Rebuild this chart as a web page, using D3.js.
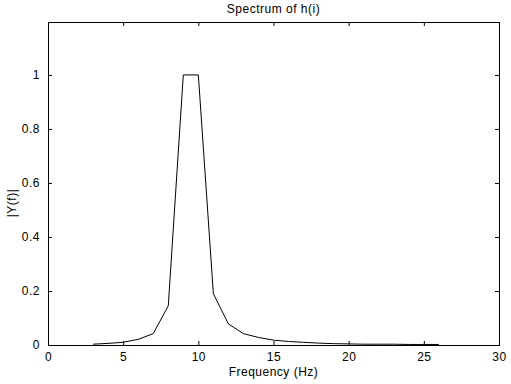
<!DOCTYPE html>
<html>
<head>
<meta charset="utf-8">
<script src="https://cdn.jsdelivr.net/npm/d3@7"></script>
<style>
  body { margin: 0; background: #fff; }
  text { font-family: "Liberation Sans", Arial, sans-serif; font-size: 12px; letter-spacing: 0.5px; fill: #000; }
</style>
</head>
<body>
<div id="chart"></div>
<script>
// spectrum samples
const freq = [3, 4, 5, 6, 7, 8, 9, 10, 11, 12, 13, 14, 15, 16, 17, 18, 19, 20, 21, 22, 23, 24, 25, 26];
const mag  = [0.003, 0.006, 0.01, 0.021, 0.042, 0.145, 1.0, 1.0, 0.19, 0.078, 0.042, 0.028, 0.018, 0.013, 0.01, 0.007, 0.005, 0.004, 0.003, 0.003, 0.003, 0.002, 0.002, 0.002];
const xTicks = [0, 5, 10, 15, 20, 25, 30];
const yTicks = [0, 0.2, 0.4, 0.6, 0.8, 1];

spectrumPlot();

function spectrumPlot() {
	const margin = {top: 22, right: 12, bottom: 39, left: 48},
		  width = 511 - margin.left - margin.right,
		  height = 384 - margin.top - margin.bottom;

	const svg = d3.select("#chart")
				  .append("svg")
				  .attr("width", 511)
				  .attr("height", 384)
				  .append("g")
				  .attr("transform", `translate(${margin.left},${margin.top})`);

	const x = d3.scaleLinear().domain([0, 30]).range([0, width]);
	const y = d3.scaleLinear().domain([0, 1.196]).range([height, 0]);

	// matlab style: ticks point inwards, on all four sides
	const tick = 4;
	svg.append("g")
	   .attr("transform", `translate(0,${height})`)
	   .call(d3.axisBottom(x).tickValues(xTicks).tickSize(-tick).tickPadding(tick + 3).tickFormat(d3.format("d")))
	   .call(g => g.select(".domain").remove());
	svg.append("g")
	   .call(d3.axisTop(x).tickValues(xTicks).tickSize(-tick).tickFormat(""))
	   .call(g => g.select(".domain").remove());
	svg.append("g")
	   .call(d3.axisLeft(y).tickValues(yTicks).tickSize(-tick).tickPadding(tick + 4).tickFormat(d => d === 0 || d === 1 ? d : d3.format(".1f")(d)))
	   .call(g => g.select(".domain").remove());
	svg.append("g")
	   .attr("transform", `translate(${width},0)`)
	   .call(d3.axisRight(y).tickValues(yTicks).tickSize(-tick).tickFormat(""))
	   .call(g => g.select(".domain").remove());

	svg.selectAll(".tick text").style("font-size", "12px").style("font-family", "Liberation Sans, Arial, sans-serif");

	// box
	svg.append("rect")
	   .attr("x", 0).attr("y", 0)
	   .attr("width", width).attr("height", height)
	   .attr("fill", "none")
	   .attr("stroke", "#000")
	   .attr("shape-rendering", "crispEdges");

	const line = d3.line()
				   .x((d, i) => x(freq[i]))
				   .y(d => y(d));

	svg.append("path")
	   .datum(mag)
	   .attr("d", line)
	   .attr("fill", "none")
	   .attr("stroke", "#000")
	   .attr("stroke-width", 1);

	// title
	svg.append("text")
	   .attr("text-anchor", "middle")
	   .attr("x", width / 2)
	   .attr("y", -9)
	   .text("Spectrum of h(i)");

	// x label
	svg.append("text")
	   .attr("text-anchor", "middle")
	   .attr("x", width / 2)
	   .attr("y", height + 31)
	   .text("Frequency (Hz)");

	// y label
	svg.append("text")
	   .attr("text-anchor", "middle")
	   .attr("transform", "rotate(-90)")
	   .attr("x", -(203 - margin.top))
	   .attr("y", -margin.left + 16)
	   .text("|Y(f)|");
}
</script>
</body>
</html>
